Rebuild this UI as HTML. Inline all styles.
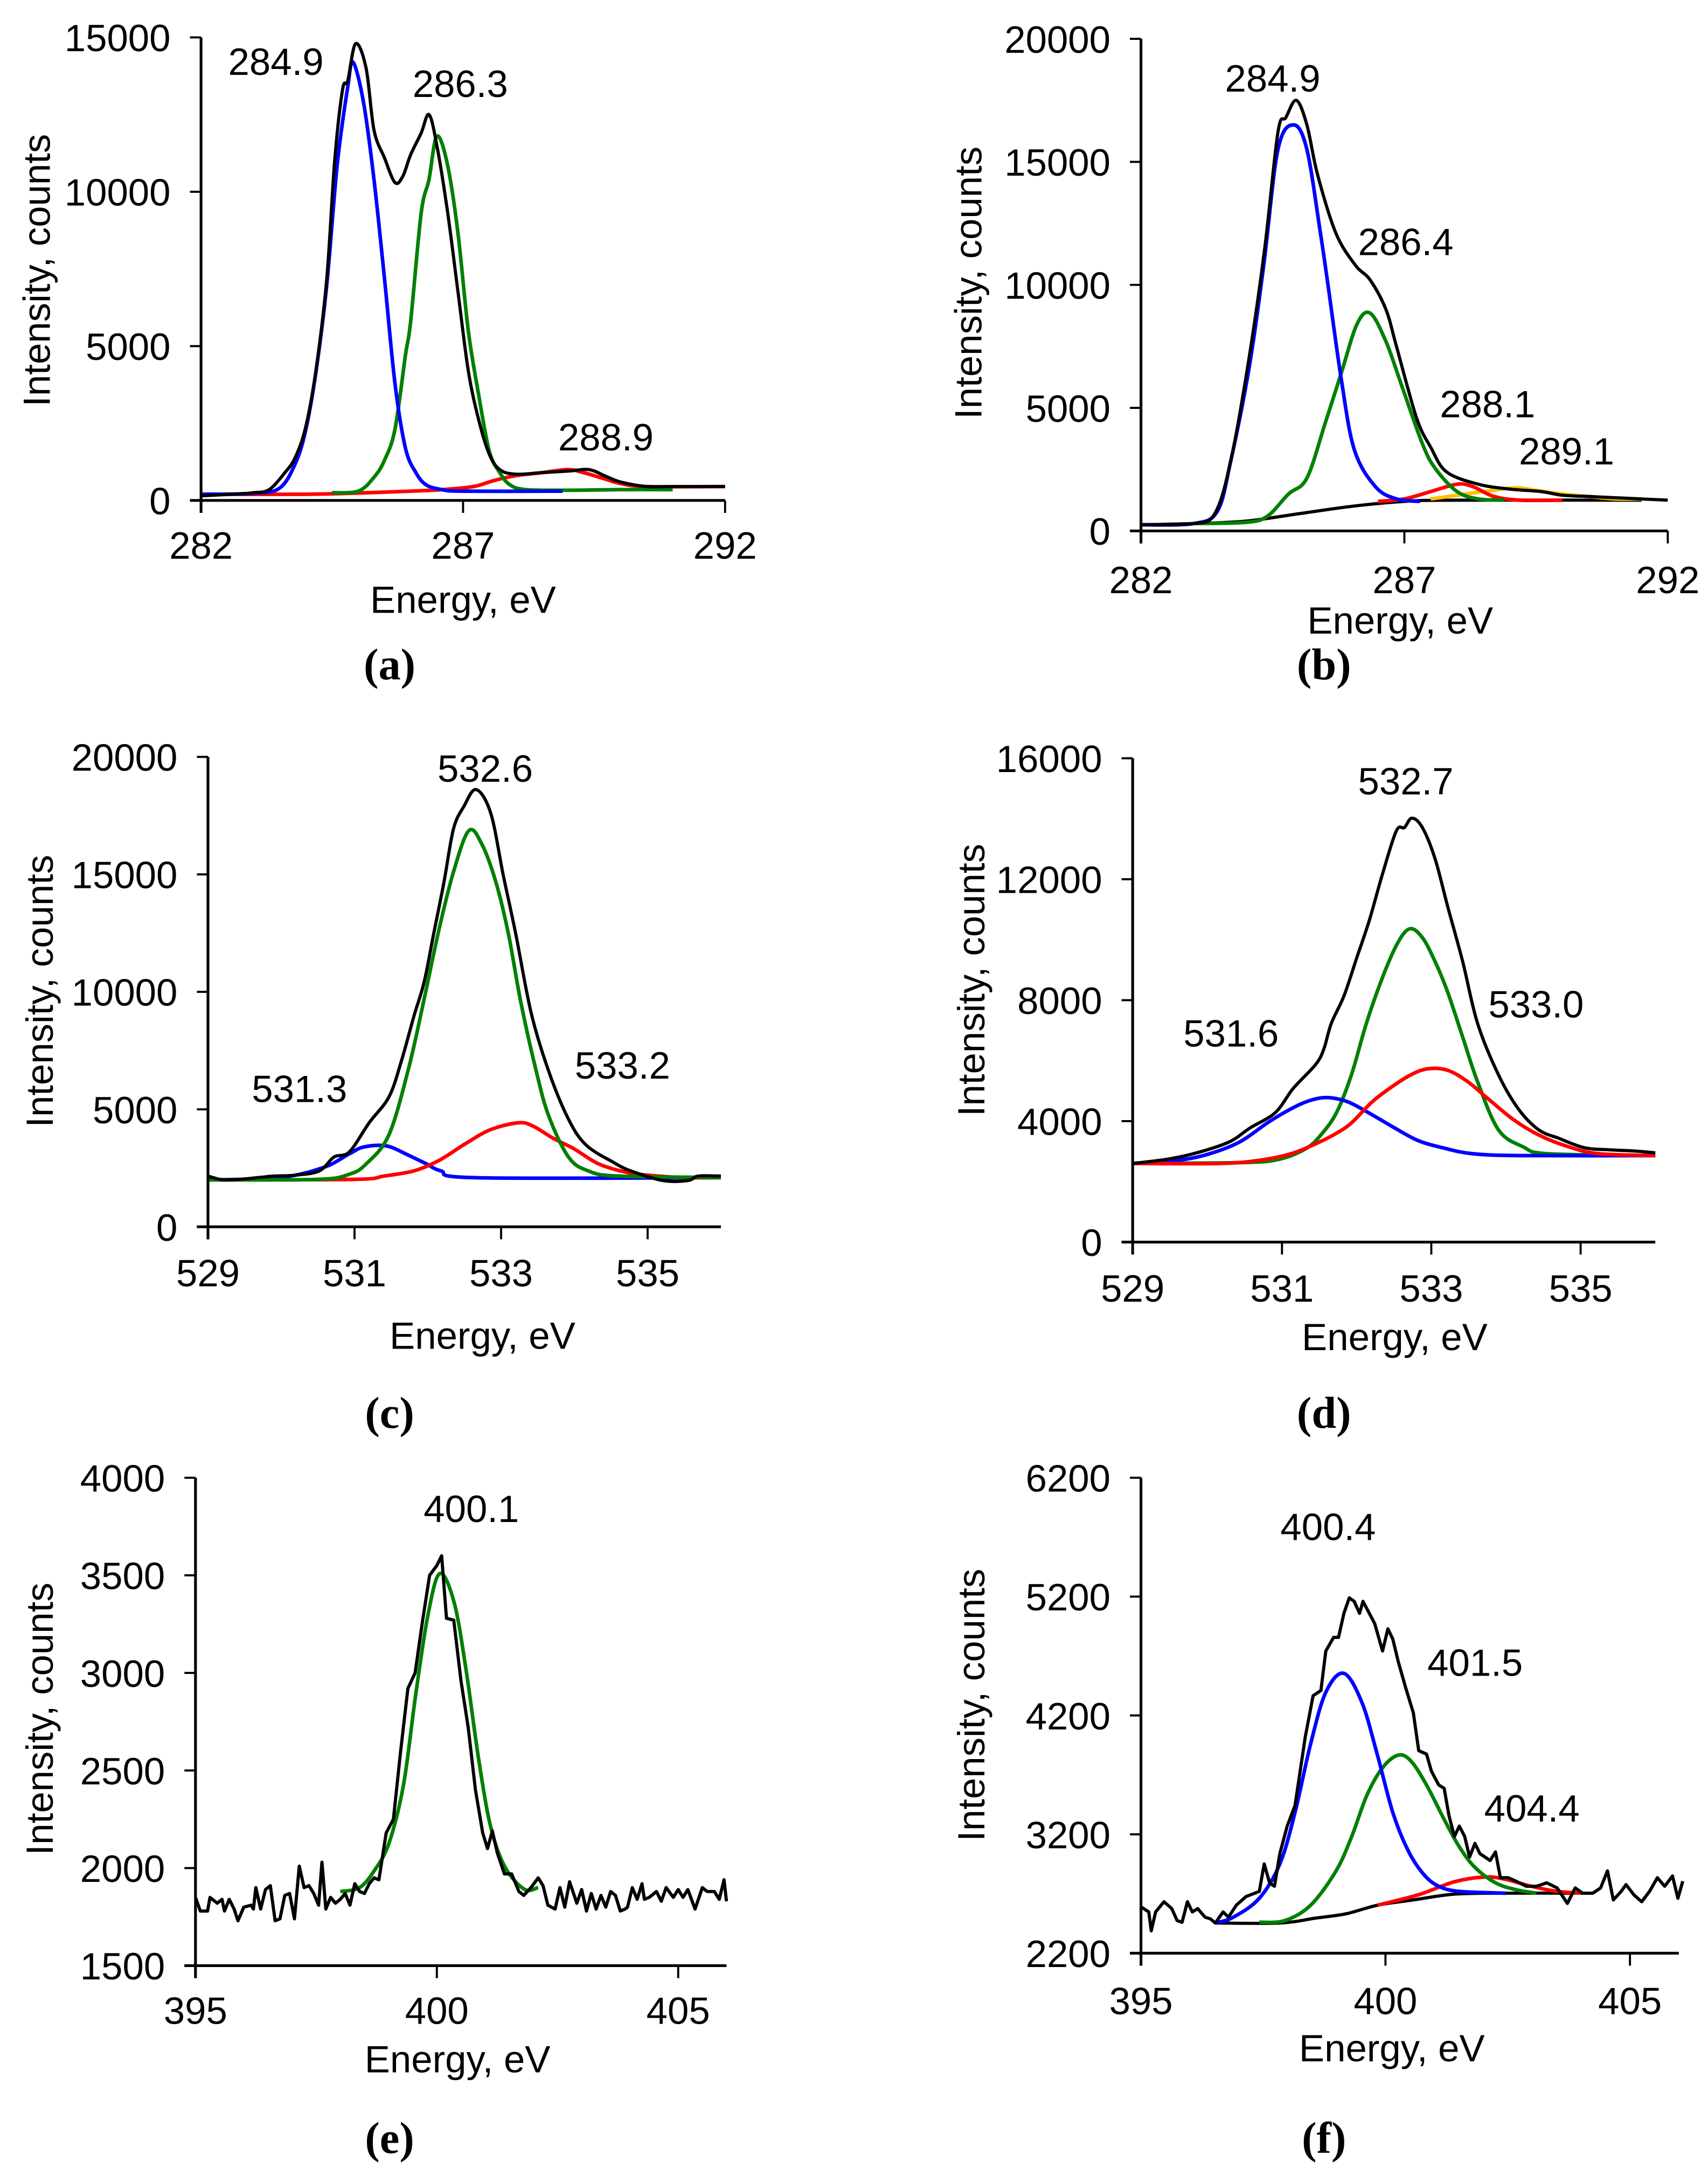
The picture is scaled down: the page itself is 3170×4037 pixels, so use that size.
<!DOCTYPE html>
<html><head><meta charset="utf-8"><style>
html,body{margin:0;padding:0;background:#fff;}
svg{display:block;}
text{font-family:"Liberation Sans",sans-serif;fill:#000;}
.lab{font-family:"Liberation Serif",serif;font-weight:bold;}
</style></head><body>
<svg id="fig" xmlns="http://www.w3.org/2000/svg" width="3170" height="4037" viewBox="0 0 1232 1569"></svg>
<script>
// ---------- Panel (a) C1s ----------
const aBlue=[[282,200],[283,230],[283.5,400],[283.8,1200],[284,2300],[284.2,4250],[284.4,7000],[284.6,10900],[284.8,13400],[284.9,14200],[285.1,12900],[285.3,10400],[285.5,7200],[285.7,3800],[285.9,1700],[286.1,900],[286.3,500],[286.6,350],[287,300],[288.9,300]];
const aGreen=[[284.5,250],[285,300],[285.3,750],[285.5,1300],[285.7,2300],[285.9,4700],[286,5800],[286.2,9300],[286.35,10400],[286.5,11800],[286.7,10900],[286.9,8700],[287.1,5500],[287.3,3400],[287.5,1600],[287.7,900],[287.9,500],[288.2,350],[289,330],[290,350],[291,350]];
const aRed=[[282,200],[284,200],[285.2,250],[286,300],[286.6,350],[287.2,450],[287.6,650],[288,800],[288.5,900],[289,1000],[289.3,900],[289.7,700],[290,550],[290.5,450],[292,450]];
const aBlack=[[282,150],[282.6,200],[283,250],[283.3,350],[283.6,900],[283.8,1400],[284,2400],[284.2,4300],[284.4,7200],[284.55,11000],[284.7,13300],[284.8,13600],[284.95,14800],[285.15,14000],[285.3,12000],[285.5,11100],[285.7,10300],[285.85,10500],[286,11200],[286.2,11900],[286.35,12500],[286.5,11500],[286.7,9400],[286.9,6800],[287.1,4200],[287.3,2600],[287.5,1500],[287.7,1000],[288,850],[288.5,900],[289,950],[289.4,1000],[289.7,800],[290,600],[290.5,450],[291,450],[292,450]];
const aXTicks=[282,287,292];
const aYTicks=[0,5000,10000,15000];
// ---------- Panel (b) C1s ----------
const bBlue=[[282,250],[283,300],[283.45,800],[283.7,2800],[284.05,6600],[284.33,10800],[284.6,15500],[284.9,16500],[285.15,15500],[285.4,12200],[285.55,10000],[285.8,6200],[286.05,3300],[286.45,1800],[286.85,1300],[287.3,1200]];
const bGreen=[[283,300],[284,350],[284.4,600],[284.8,1500],[285.15,2150],[285.5,4400],[285.8,6400],[286.1,8400],[286.35,8850],[286.65,7700],[286.95,5900],[287.35,3500],[287.6,2500],[288,1600],[288.4,1300],[288.9,1250]];
const bBase=[[282,250],[283,300],[284,400],[285,700],[286,1000],[287,1200],[288,1250],[291.5,1250]];
const bRed=[[286.5,1200],[287,1300],[287.5,1600],[288,1900],[288.3,1800],[288.7,1400],[289.2,1250],[290,1250]];
const bOrange=[[287.5,1300],[288,1450],[288.5,1600],[289.1,1750],[289.5,1650],[290,1500],[290.5,1400],[291,1300],[291.5,1300]];
const bBlack=[[282,250],[283,300],[283.4,700],[283.7,2800],[284.05,7000],[284.35,11500],[284.6,16200],[284.75,16800],[284.95,17500],[285.15,16500],[285.35,14500],[285.7,12100],[286.07,10800],[286.35,10200],[286.65,9000],[286.85,7500],[287.23,4600],[287.5,3400],[287.8,2400],[288.4,1900],[289,1700],[289.6,1600],[290,1450],[290.5,1400],[291,1350],[291.5,1300],[292,1250]];
const bXTicks=[282,287,292];
const bYTicks=[0,5000,10000,15000,20000];
// ---------- Panel (c) O1s ----------
const cGreen=[[529,2000],[530.5,2020],[530.93,2240],[531.16,2680],[531.47,3920],[531.74,6770],[531.95,9690],[532.15,12620],[532.35,15100],[532.56,16860],[532.74,16270],[532.93,14660],[533.1,12470],[533.27,9550],[533.48,6620],[533.65,4720],[533.92,2970],[534.19,2380],[534.6,2160],[536,2100]];
const cBlue=[[529,2000],[529.97,2090],[530.58,2530],[530.93,3110],[531.13,3400],[531.44,3440],[531.74,3040],[531.98,2680],[532.18,2380],[532.66,2090],[536,2090]];
const cRed=[[529,2000],[531,2020],[531.4,2160],[531.81,2380],[532.15,2820],[532.52,3550],[532.86,4140],[533.24,4430],[533.44,4280],[533.71,3770],[533.99,3330],[534.33,2680],[534.73,2310],[535.14,2160],[535.55,2090],[536,2100]];
const cBlack=[[529,2160],[529.2,2000],[529.43,2020],[529.7,2100],[529.9,2160],[530.2,2200],[530.52,2380],[530.72,2970],[530.93,3190],[531.2,4430],[531.47,5530],[531.64,7060],[531.81,8960],[531.95,10420],[532.08,12470],[532.22,14660],[532.35,16930],[532.49,17880],[532.66,18610],[532.86,17590],[533.03,14960],[533.2,12470],[533.41,9110],[533.65,6620],[533.92,4580],[534.16,3480],[534.53,2750],[534.77,2380],[535.21,1970],[535.55,1970],[535.69,2160],[536,2160]];
const cXTicks=[529,531,533,535];
const cYTicks=[0,5000,10000,15000,20000];
// ---------- Panel (d) O1s ----------
const dBlue=[[529,2600],[529.62,2710],[530.03,2920],[530.44,3320],[530.84,4000],[531.22,4530],[531.46,4740],[531.66,4770],[531.9,4620],[532.2,4220],[532.47,3830],[532.81,3370],[533.15,3120],[533.56,2920],[534.23,2860],[536,2860]];
const dGreen=[[529,2600],[530.5,2630],[530.98,2750],[531.32,3090],[531.52,3540],[531.73,4280],[531.93,5530],[532.13,7230],[532.34,8710],[532.54,9850],[532.71,10360],[532.88,10070],[533.05,9280],[533.22,8260],[533.42,6780],[533.62,5300],[533.9,3710],[534.23,3150],[534.57,2920],[536,2860]];
const dRed=[[529,2600],[530.17,2600],[530.71,2710],[531.12,2920],[531.46,3260],[531.73,3600],[531.93,3940],[532.2,4620],[532.44,5080],[532.71,5510],[532.95,5730],[533.22,5680],[533.49,5300],[533.76,4740],[534.1,4050],[534.44,3540],[534.84,3150],[535.25,2920],[536,2860]];
const dBlack=[[529,2600],[529.49,2750],[529.9,2980],[530.3,3320],[530.57,3770],[530.91,4280],[531.15,5080],[531.45,5870],[531.56,6380],[531.66,7230],[531.83,8140],[532,9390],[532.17,10640],[532.34,12120],[532.53,13590],[532.64,13710],[532.74,14020],[532.88,13710],[533.05,12680],[533.22,11090],[533.42,9280],[533.62,7230],[533.9,5530],[534.17,4390],[534.44,3710],[534.71,3430],[535.05,3120],[535.39,3050],[535.73,3010],[536,2950]];
const dXTicks=[529,531,533,535];
const dYTicks=[0,4000,8000,12000,16000];
// ---------- Panel (e) N1s ----------
const eGreen=[[398,1880],[398.4,1900],[398.71,1989],[399.01,2129],[399.31,2428],[399.56,2885],[399.81,3289],[400.06,3509],[400.36,3359],[400.61,3008],[400.86,2568],[401.11,2217],[401.41,2006],[401.81,1892],[402.1,1900]];
const eBlack=[[395,1850],[395.1,1780],[395.25,1780],[395.3,1850],[395.45,1820],[395.55,1840],[395.6,1780],[395.7,1840],[395.8,1790],[395.88,1730],[396,1800],[396.15,1810],[396.2,1790],[396.25,1900],[396.35,1790],[396.45,1890],[396.55,1910],[396.65,1730],[396.75,1740],[396.85,1860],[396.95,1870],[397.05,1740],[397.15,2010],[397.25,1900],[397.35,1910],[397.45,1870],[397.55,1810],[397.62,2030],[397.7,1790],[397.8,1850],[397.9,1820],[398,1840],[398.1,1870],[398.2,1810],[398.3,1920],[398.4,1880],[398.5,1870],[398.6,1920],[398.7,1950],[398.8,1940],[398.95,2180],[399.1,2250],[399.25,2600],[399.4,2920],[399.55,3000],[399.7,3260],[399.85,3500],[400,3550],[400.1,3600],[400.2,3280],[400.35,3270],[400.5,2960],[400.65,2720],[400.8,2400],[400.95,2180],[401.05,2100],[401.15,2190],[401.25,2080],[401.4,1970],[401.55,1970],[401.7,1880],[401.8,1860],[401.95,1900],[402.1,1950],[402.2,1910],[402.3,1810],[402.45,1790],[402.55,1900],[402.65,1800],[402.75,1930],[402.9,1820],[403,1890],[403.1,1780],[403.2,1870],[403.3,1790],[403.4,1860],[403.5,1800],[403.6,1880],[403.7,1860],[403.8,1780],[403.9,1790],[403.95,1800],[404.05,1900],[404.15,1840],[404.25,1920],[404.3,1840],[404.4,1850],[404.55,1880],[404.65,1830],[404.75,1900],[404.9,1850],[405,1890],[405.1,1850],[405.2,1890],[405.35,1790],[405.5,1900],[405.6,1880],[405.75,1880],[405.85,1840],[405.95,1940],[406,1830]];
const eXTicks=[395,400,405];
const eYTicks=[1500,2000,2500,3000,3500,4000];
// ---------- Panel (f) N1s ----------
const fBase=[[396.52,2454],[397.84,2454],[398.57,2495],[399.2,2532],[399.84,2604],[400.57,2648],[401.41,2697],[402.46,2705],[404.24,2705]];
const fBlue=[[396.52,2454],[396.89,2503],[397.42,2662],[397.84,2951],[398.15,3384],[398.47,3962],[398.78,4395],[399.15,4554],[399.52,4308],[399.83,3875],[400.15,3384],[400.46,3066],[400.78,2864],[401.09,2763],[401.51,2720],[402.46,2705]];
const fGreen=[[397.42,2460],[397.94,2474],[398.47,2604],[398.99,2893],[399.31,3182],[399.62,3529],[399.94,3760],[400.26,3866],[400.52,3817],[400.84,3615],[401.2,3326],[401.51,3095],[401.83,2922],[402.25,2792],[402.67,2734],[403.09,2705]];
const fRed=[[399.84,2604],[400.67,2691],[401.41,2801],[402.04,2841],[402.46,2821],[402.98,2763],[403.51,2720],[404.03,2705]];
const fBlack=[[395,2590],[395.16,2547],[395.21,2388],[395.3,2547],[395.47,2633],[395.63,2575],[395.74,2474],[395.84,2460],[395.95,2633],[396.05,2547],[396.16,2575],[396.31,2503],[396.42,2489],[396.52,2454],[396.68,2547],[396.79,2503],[396.95,2604],[397.15,2677],[397.42,2720],[397.52,2951],[397.63,2792],[397.73,2763],[397.84,3038],[397.99,3269],[398.15,3442],[398.36,4020],[398.52,4366],[398.68,4410],[398.78,4742],[398.94,4857],[399.04,4857],[399.15,5059],[399.26,5189],[399.36,5160],[399.47,5059],[399.54,5160],[399.67,5059],[399.78,4973],[399.94,4742],[400.05,4929],[400.15,4843],[400.26,4655],[400.42,4424],[400.57,4222],[400.68,3904],[400.84,3875],[400.94,3731],[401.09,3615],[401.2,3587],[401.3,3355],[401.41,3182],[401.51,3269],[401.62,3182],[401.72,3009],[401.83,3124],[401.93,3038],[402.14,2980],[402.25,3052],[402.35,2835],[402.51,2835],[402.67,2806],[402.88,2763],[403.09,2763],[403.3,2792],[403.51,2749],[403.72,2619],[403.88,2749],[404.03,2705],[404.24,2705],[404.4,2749],[404.54,2893],[404.66,2648],[404.82,2720],[404.92,2777],[405.08,2691],[405.24,2633],[405.4,2720],[405.56,2835],[405.71,2763],[405.87,2850],[405.98,2662],[406.08,2806]];
const fXTicks=[395,400,405];
const fYTicks=[2200,3200,4200,5200,6200];

const NS="http://www.w3.org/2000/svg";
const svg=document.getElementById('fig');
function mk(tag,attrs,parent){const e=document.createElementNS(NS,tag);for(const k in attrs)e.setAttribute(k,attrs[k]);(parent||svg).appendChild(e);return e;}
function txt(s,x,y,parent,anchor,cls,size,rot){const t=mk('text',{x:x,y:y,'text-anchor':anchor||'middle','font-size':size||27.5},parent);if(cls)t.setAttribute('class',cls);if(rot)t.setAttribute('transform','rotate(-90 '+x+' '+y+')');t.textContent=s;return t;}
function smoothPath(P){
  let d='M'+P[0][0].toFixed(2)+','+P[0][1].toFixed(2);
  for(let i=0;i<P.length-1;i++){
    const p0=P[i>0?i-1:i],p1=P[i],p2=P[i+1],p3=P[i+2<P.length?i+2:i+1];
    const c1x=p1[0]+(p2[0]-p0[0])/6,c1y=p1[1]+(p2[1]-p0[1])/6;
    const c2x=p2[0]-(p3[0]-p1[0])/6,c2y=p2[1]-(p3[1]-p1[1])/6;
    d+=' C'+c1x.toFixed(2)+','+c1y.toFixed(2)+' '+c2x.toFixed(2)+','+c2y.toFixed(2)+' '+p2[0].toFixed(2)+','+p2[1].toFixed(2);
  }
  return d;
}

const COLORS={black:'#000000',blue:'#0000ff',green:'#008000',red:'#ff0000',orange:'#ffc000'};
const panels=[
 {id:'a',x0:145,x1:523,y0:361,y1:27,xmin:282,xmax:292,ymin:0,ymax:15000,xt:aXTicks,yt:aYTicks,xlabY:403,titleX:334,titleY:442,ytX:36,ytY:195,labX:281,labY:490,
  series:[['red',aRed,1],['green',aGreen,1],['blue',aBlue,1],['black',aBlack,1]],
  peaks:[['284.9',199,54],['286.3',332,70],['288.9',437,325]]},
 {id:'b',x0:823,x1:1203,y0:383,y1:28,xmin:282,xmax:292,ymin:0,ymax:20000,xt:bXTicks,yt:bYTicks,xlabY:428,titleX:1010,titleY:457,ytX:708,ytY:204,labX:955,labY:490,
  series:[['black',bBase,1],['orange',bOrange,1],['red',bRed,1],['green',bGreen,1],['blue',bBlue,1],['black',bBlack,1]],
  peaks:[['284.9',918,66],['286.4',1014,184],['288.1',1073,301],['289.1',1130,335]]},
 {id:'c',x0:150,x1:520,y0:885,y1:546,xmin:529,xmax:536,ymin:0,ymax:20000,xt:cXTicks,yt:cYTicks,xlabY:928,titleX:348,titleY:973,ytX:38,ytY:715,labX:281,labY:1030,
  series:[['blue',cBlue,1],['red',cRed,1],['green',cGreen,1],['black',cBlack,1]],
  peaks:[['532.6',350,564],['531.3',216,795],['533.2',449,778]]},
 {id:'d',x0:817,x1:1194,y0:896,y1:547,xmin:529,xmax:536,ymin:0,ymax:16000,xt:dXTicks,yt:dYTicks,xlabY:939,titleX:1006,titleY:974,ytX:710,ytY:707,labX:955,labY:1030,
  series:[['green',dGreen,1],['blue',dBlue,1],['red',dRed,1],['black',dBlack,1]],
  peaks:[['532.7',1014,573],['531.6',888,755],['533.0',1108,734]]},
 {id:'e',x0:141,x1:524,y0:1418,y1:1066,xmin:395,xmax:406,ymin:1500,ymax:4000,xt:eXTicks,yt:eYTicks,xlabY:1460,titleX:330,titleY:1495,ytX:38,ytY:1240,labX:281,labY:1553,
  series:[['green',eGreen,1],['black',eBlack,0]],
  peaks:[['400.1',340,1098]]},
 {id:'f',x0:823,x1:1211,y0:1409,y1:1066,xmin:395,xmax:406,ymin:2200,ymax:6200,xt:fXTicks,yt:fYTicks,xlabY:1453,titleX:1004,titleY:1487,ytX:710,ytY:1230,labX:955,labY:1553,
  series:[['black',fBase,1],['red',fRed,1],['green',fGreen,1],['blue',fBlue,1],['black',fBlack,0]],
  peaks:[['400.4',958,1111],['401.5',1064,1209],['404.4',1105,1314]]}
];

panels.forEach(p=>{
  const g=mk('g',{});
  
  
  const sx=v=>p.x0+(v-p.xmin)/(p.xmax-p.xmin)*(p.x1-p.x0);
  const sy=v=>p.y0-(v-p.ymin)/(p.ymax-p.ymin)*(p.y0-p.y1);
  p.series.forEach(s=>{
    const P=s[1].map(d=>[sx(d[0]),sy(d[1])]);
    let el;
    if(s[2]){
      el=mk('path',{d:smoothPath(P),fill:'none',stroke:COLORS[s[0]],'stroke-width':s[0]==='black'?2.3:2.6,'stroke-linejoin':'round'},g);
    }else{
      el=mk('polyline',{points:P.map(q=>q[0].toFixed(2)+','+q[1].toFixed(2)).join(' '),fill:'none',stroke:COLORS[s[0]],'stroke-width':2.3,'stroke-linejoin':'round'},g);
    }
    
    
  });
  const ax=mk('line',{x1:p.x0,y1:p.y1,x2:p.x0,y2:p.y0+9,stroke:'#000','stroke-width':2},g);
  
  
  const bx=mk('line',{x1:p.x0-8,y1:p.y0,x2:p.x1,y2:p.y0,stroke:'#000','stroke-width':2},g);
  
  
  p.xt.forEach(v=>{
    const x=sx(v);
    const tk=mk('line',{x1:x,y1:p.y0,x2:x,y2:p.y0+9,stroke:'#000','stroke-width':1.5},g);
    
    
    const t=txt(String(v),x,p.xlabY,g);
    
    
  });
  p.yt.forEach(v=>{
    const y=sy(v);
    const tk=mk('line',{x1:p.x0-8,y1:y,x2:p.x0,y2:y,stroke:'#000','stroke-width':1.5},g);
    
    
    const t=txt(String(v),p.x0-22,y+10,g,'end');
    
    
  });
  const xt=txt('Energy, eV',p.titleX,p.titleY,g);
  
  
  const yt=txt('Intensity, counts',p.ytX,p.ytY,g,'middle',null,27.5,true);
  
  
  p.peaks.forEach(k=>{
    const t=txt(k[0],k[1],k[2],g);
    
    
  });
  const lab=txt('('+p.id+')',p.labX,p.labY,g,'middle','lab',32);
  
  
});
</script>
</body></html>
